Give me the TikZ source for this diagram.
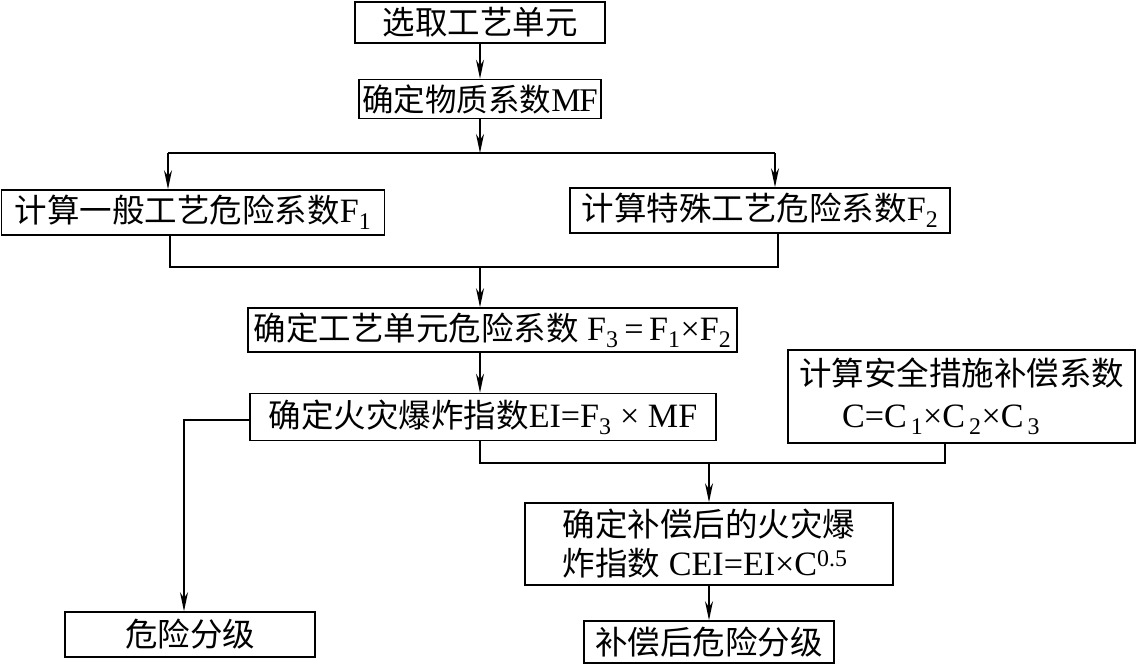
\documentclass[tikz,border=0pt]{standalone}
\usepackage{fontspec}
\setmainfont{Liberation Serif}[Scale=1.05]
\newfontfamily\cjk{Noto Sans CJK SC}
\usetikzlibrary{arrows.meta}
\begin{document}
\begin{tikzpicture}[x=1pt,y=-1pt,
  box/.style={draw, line width=1.6pt, inner sep=0pt, font=\fontsize{32.5}{42}\selectfont},
  arr/.style={line width=1.5pt, -{Stealth[length=19pt,width=8pt,inset=6pt]}},
  ln/.style={line width=1.5pt}]
\useasboundingbox (0,0) rectangle (1137,666);
\node[box, minimum width=250pt, minimum height=41pt] (b1) at (480,22.5) {\cjk 选取工艺单元};
\node[box, minimum width=242pt, minimum height=39pt, font=\fontsize{31.5}{40}\selectfont] (b2) at (480,99) {{\cjk 确定物质系数}M\kern-1.5ptF};
\node[box, minimum width=383pt, minimum height=45pt] (f1) at (193,212.5) {{\cjk 计算一般工艺危险系数}F\textsubscript{1}};
\node[box, minimum width=380pt, minimum height=45pt] (f2) at (760,210.5) {{\cjk 计算特殊工艺危险系数}F\textsubscript{2}};
\node[box, minimum width=489pt, minimum height=44pt] (f3) at (492.5,330) {{\cjk 确定工艺单元危险系数} F\textsubscript{3}\,=\,F\textsubscript{1}×F\textsubscript{2}};
\node[box, minimum width=466pt, minimum height=47pt] (ei) at (483,417) {{\cjk 确定火灾爆炸指数}EI=F\textsubscript{3} × MF};
\node[box, minimum width=347pt, minimum height=93pt, align=left] (c) at (961.5,396.5) {{\cjk 计算安全措施补偿系数}\\[0pt]\hspace*{43pt}C=C\textsubscript{\,1}×C\textsubscript{\,2}×C\textsubscript{\,3}};
\node[box, minimum width=368pt, minimum height=82pt, align=left, font=\fontsize{32.5}{39}\selectfont] (cei) at (709,544) {{\cjk 确定补偿后的火灾爆}\\{\cjk 炸指数} CEI=EI×C\textsuperscript{0.5}};
\node[box, minimum width=250pt, minimum height=45pt] (risk) at (190,634.5) {\cjk 危险分级};
\node[box, minimum width=250pt, minimum height=42pt] (fin) at (709,642) {\cjk 补偿后危险分级};
% connectors
\draw[arr] (b1.south) -- (b2.north);
\coordinate (s) at (480,153);
\coordinate (sl) at (168,153);
\coordinate (sr) at (775,153);
\draw[arr] (b2.south) -- (s);
\draw[ln] (sl) -- (sr);
\draw[arr] (sl) -- (sl |- f1.north);
\draw[arr] (sr) -- (sr |- f2.north);
\coordinate (ml) at (170,267);
\coordinate (mr) at (778,267);
\coordinate (mm) at (480,267);
\draw[ln] (ml |- f1.south) -- (ml) -- (mr) -- (mr |- f2.south);
\draw[arr] (mm) -- (mm |- f3.north);
\draw[arr] (mm |- f3.south) -- (mm |- ei.north);
\coordinate (rl) at (184,420);
\draw[arr] (ei.west |- rl) -- (rl) -- (rl |- risk.north);
\coordinate (j1) at (480,463);
\coordinate (j2) at (945,463);
\coordinate (j3) at (709,463);
\draw[ln] (j1 |- ei.south) -- (j1) -- (j2) -- (j2 |- c.south);
\draw[arr] (j3) -- (j3 |- cei.north);
\draw[arr] (j3 |- cei.south) -- (j3 |- fin.north);
\end{tikzpicture}
\end{document}
